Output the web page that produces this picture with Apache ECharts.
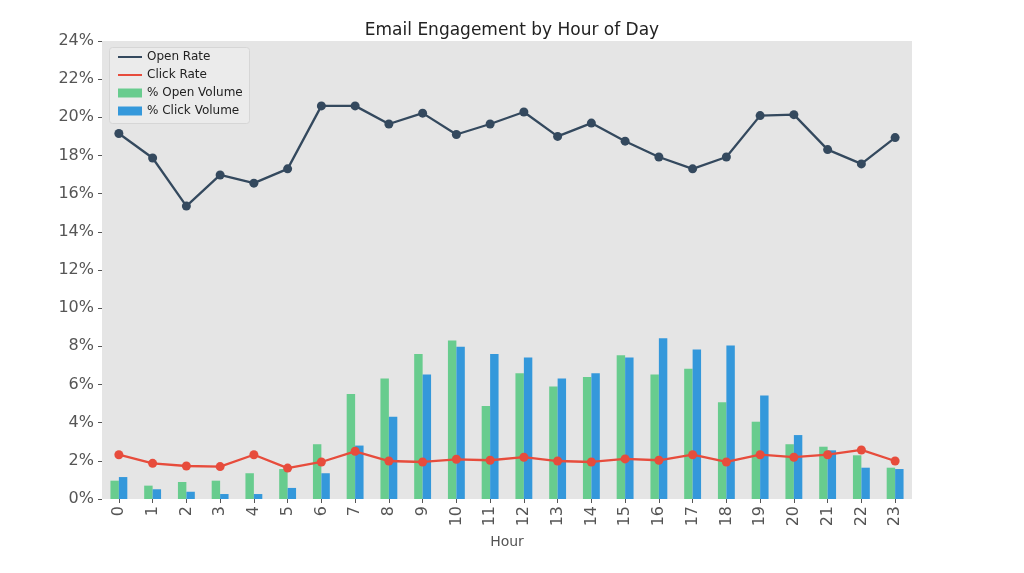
<!DOCTYPE html>
<html><head><meta charset="utf-8">
<script src="https://cdn.jsdelivr.net/npm/echarts@6/dist/echarts.min.js"></script>
<style>html,body{margin:0;padding:0;background:#fff}#c{width:1024px;height:573px}</style>
</head><body><div id="c"></div>
<script>
const hours = ['0','1','2','3','4','5','6','7','8','9','10','11','12','13','14','15','16','17','18','19','20','21','22','23'];
const openRate = [19.15,17.87,15.35,16.98,16.55,17.3,20.6,20.6,19.65,20.22,19.1,19.65,20.28,19.0,19.7,18.75,17.92,17.3,17.92,20.09,20.14,18.31,17.56,18.94];
const clickRate = [2.32,1.87,1.73,1.7,2.32,1.62,1.94,2.5,1.99,1.94,2.08,2.03,2.19,1.99,1.94,2.1,2.03,2.32,1.94,2.32,2.19,2.32,2.57,1.99];
const openVolume = [0.96,0.70,0.89,0.96,1.35,1.57,2.87,5.5,6.32,7.6,8.3,4.87,6.59,5.89,6.39,7.53,6.52,6.83,5.07,4.05,2.87,2.74,2.29,1.64];
const clickVolume = [1.15,0.51,0.38,0.26,0.26,0.58,1.35,2.8,4.31,6.52,7.98,7.6,7.41,6.32,6.59,7.41,8.42,7.84,8.04,5.43,3.35,2.55,1.64,1.57];
const yTicks = {min:0, max:24, interval:2};

const font = 'DejaVu Sans';
const chart = echarts.init(document.getElementById('c'), null, {renderer:'canvas'});
chart.setOption({
  animation:false,
  textStyle:{fontFamily:font},
  title:{text:'Email Engagement by Hour of Day', left:507, textAlign:'center', top:17,
    textStyle:{fontFamily:font, fontSize:17, fontWeight:'normal', color:'#222'}},
  grid:{left:102, right:112, top:41, bottom:74, show:true, backgroundColor:'#e5e5e5', borderWidth:0},
  graphic:[{type:'rect', left:109, top:47, z:5, shape:{width:140, height:76, r:3},
    style:{fill:'#ebebeb', stroke:'#d6d6d6', lineWidth:1}}],
  legend:[
    {data:['Open Rate','Click Rate'], orient:'vertical', left:113, top:46, itemWidth:24, itemHeight:2, itemGap:6, icon:'rect', z:10,
      textStyle:{fontFamily:font, fontSize:12, color:'#222'}},
    {data:['% Open Volume','% Click Volume'], orient:'vertical', left:113, top:82, itemWidth:24, itemHeight:9, itemGap:6, icon:'rect', z:10,
      textStyle:{fontFamily:font, fontSize:12, color:'#222'}}
  ],
  xAxis:{type:'category', data:hours, boundaryGap:true,
    name:'Hour', nameLocation:'middle', nameGap:36, nameTextStyle:{fontFamily:font, fontSize:14, color:'#555'},
    axisLine:{show:false}, axisTick:{show:true, alignWithLabel:true, length:4, lineStyle:{color:'#555'}},
    axisLabel:{rotate:90, fontSize:16, color:'#555', margin:7, fontFamily:font}},
  yAxis:{type:'value', min:yTicks.min, max:yTicks.max, interval:yTicks.interval,
    axisLine:{show:false}, axisTick:{show:true, length:4, lineStyle:{color:'#555'}},
    splitLine:{show:false},
    axisLabel:{formatter:'{value}%', fontSize:16, color:'#555', margin:8, fontFamily:font}},
  series:[
    {name:'% Open Volume', type:'bar', data:openVolume, barWidth:'25%', barGap:'0%', itemStyle:{color:'#68cc8e'}},
    {name:'% Click Volume', type:'bar', data:clickVolume, barWidth:'25%', barGap:'0%', itemStyle:{color:'#3498db'}},
    {name:'Open Rate', type:'line', data:openRate, symbol:'circle', symbolSize:9, z:4,
      lineStyle:{color:'#34495e', width:2.3}, itemStyle:{color:'#34495e'}},
    {name:'Click Rate', type:'line', data:clickRate, symbol:'circle', symbolSize:9, z:4,
      lineStyle:{color:'#e74c3c', width:2.3}, itemStyle:{color:'#e74c3c'}}
  ]
});
</script></body></html>
